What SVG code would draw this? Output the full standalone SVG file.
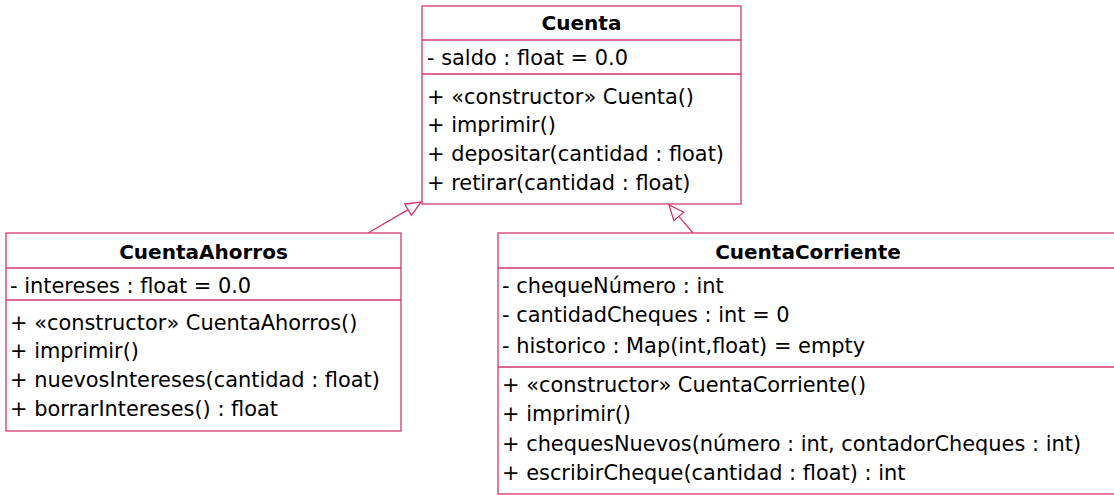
<svg xmlns="http://www.w3.org/2000/svg" width="1114" height="495" viewBox="0 0 1114 495">
  <style>
    .box { fill: #ffffff; stroke: #d1386b; stroke-width: 1.3; }
    .sep { stroke: #d1386b; stroke-width: 1.3; }
    .title { font-family: "DejaVu Sans", "Liberation Sans", sans-serif; font-weight: bold; font-size: 20px; fill: #000; text-anchor: middle; }
    .txt { font-family: "DejaVu Sans", "Liberation Sans", sans-serif; font-size: 20.9px; fill: #000; }
    .edge { stroke: #d1386b; stroke-width: 1.3; fill: none; }
  </style>
  <defs>
    <marker id="inherit" markerUnits="userSpaceOnUse" markerWidth="16" markerHeight="14" viewBox="0 -7 16 14" refX="0" refY="0" orient="auto" overflow="visible">
      <path d="M0,-6.5 L15,0 L0,6.5 Z" fill="#ffffff" stroke="#d1386b" stroke-width="1.3"/>
    </marker>
  </defs>

  <!-- Generalisation connectors -->
  <g id="connectors">
    <line class="edge" x1="368" y1="233" x2="408.1" y2="209.6" marker-end="url(#inherit)"/>
    <line class="edge" x1="693" y1="233" x2="678.8" y2="216.4" marker-end="url(#inherit)"/>
  </g>

  <!-- Base class -->
  <g id="cuenta">
    <rect class="box" x="422" y="6" width="319" height="198"/>
    <line class="sep" x1="422" y1="40" x2="741" y2="40"/>
    <line class="sep" x1="422" y1="74" x2="741" y2="74"/>
    <text class="title" x="581.5" y="30">Cuenta</text>
    <text class="txt" x="427" y="65">- saldo : float = 0.0</text>
    <text class="txt" x="427" y="104">+ «constructor» Cuenta()</text>
    <text class="txt" x="427" y="132">+ imprimir()</text>
    <text class="txt" x="427" y="161">+ depositar(cantidad : float)</text>
    <text class="txt" x="427" y="190">+ retirar(cantidad : float)</text>
  </g>

  <!-- Savings account -->
  <g id="cuenta-ahorros">
    <rect class="box" x="6" y="233" width="395" height="198"/>
    <line class="sep" x1="6" y1="268" x2="401" y2="268"/>
    <line class="sep" x1="6" y1="300" x2="401" y2="300"/>
    <text class="title" x="203.5" y="259">CuentaAhorros</text>
    <text class="txt" x="10" y="293">- intereses : float = 0.0</text>
    <text class="txt" x="10" y="330">+ «constructor» CuentaAhorros()</text>
    <text class="txt" x="10" y="358">+ imprimir()</text>
    <text class="txt" x="10" y="387">+ nuevosIntereses(cantidad : float)</text>
    <text class="txt" x="10" y="416">+ borrarIntereses() : float</text>
  </g>

  <!-- Current account -->
  <g id="cuenta-corriente">
    <rect class="box" x="498" y="233" width="630" height="261"/>
    <line class="sep" x1="498" y1="268" x2="1128" y2="268"/>
    <line class="sep" x1="498" y1="367" x2="1128" y2="367"/>
    <text class="title" x="808" y="259">CuentaCorriente</text>
    <text class="txt" x="502" y="293">- chequeNúmero : int</text>
    <text class="txt" x="502" y="322">- cantidadCheques : int = 0</text>
    <text class="txt" x="502" y="353">- historico : Map(int,float) = empty</text>
    <text class="txt" x="502" y="392">+ «constructor» CuentaCorriente()</text>
    <text class="txt" x="502" y="421">+ imprimir()</text>
    <text class="txt" x="502" y="451">+ chequesNuevos(número : int, contadorCheques : int)</text>
    <text class="txt" x="502" y="480">+ escribirCheque(cantidad : float) : int</text>
  </g>
</svg>
